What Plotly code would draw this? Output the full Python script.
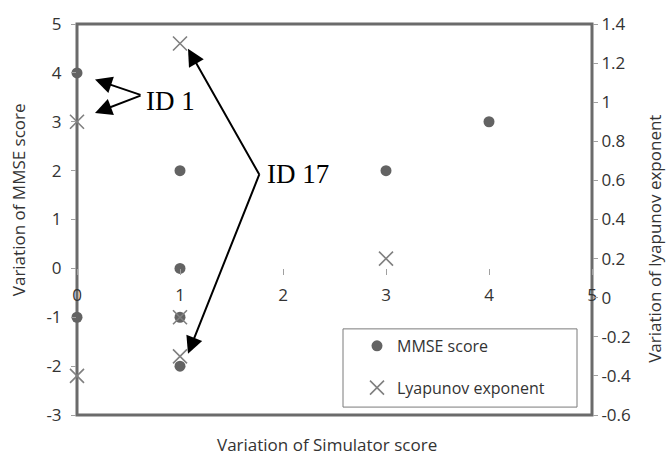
import plotly.graph_objects as go

# ---- data ----
mmse_x = [0, 0, 1, 1, 1, 1, 3, 4]
mmse_y = [4, -1, 2, 0, -1, -2, 2, 3]
lyap_x = [0, 0, 1, 1, 1, 3]
lyap_y = [0.9, -0.4, 1.3, -0.1, -0.3, 0.2]

x_ticks = [0, 1, 2, 3, 4, 5]
y_left_ticks = [-3, -2, -1, 0, 1, 2, 3, 4, 5]
y_left_text = ["-3", "-2", "-1", "0", "1", "2", "3", "4", "5"]
y_right_ticks = [-0.6, -0.4, -0.2, 0, 0.2, 0.4, 0.6, 0.8, 1.0, 1.2, 1.4]
y_right_text = ["-0.6", "-0.4", "-0.2", "0", "0.2", "0.4", "0.6", "0.8", "1", "1.2", "1.4"]

W, H = 668, 456
L, R, T, B = 77, 76, 20, 41
PW, PH = W - L - R, H - T - B

def px(X):
    return (X - L) / PW

def py(Y):
    return (H - B - Y) / PH

FONT = "Open Sans"
TXT = "#333333"
GRAY = "#6b6b6b"

fig = go.Figure()
fig.add_trace(go.Scatter(
    x=mmse_x, y=mmse_y, mode="markers", name="MMSE score",
    marker=dict(symbol="circle", size=11, color="#636363"),
    cliponaxis=False, legendgroup="a", xaxis="x", yaxis="y"))
fig.add_trace(go.Scatter(
    x=lyap_x, y=lyap_y, mode="markers", name="Lyapunov exponent",
    marker=dict(symbol="x-thin", size=14, color="#808080",
                line=dict(width=1.6, color="#808080")),
    cliponaxis=False, legendgroup="b", xaxis="x", yaxis="y2"))

fig.update_layout(
    width=W, height=H,
    margin=dict(l=L, r=R, t=T, b=B),
    paper_bgcolor="white", plot_bgcolor="white",
    font=dict(family=FONT, size=16, color=TXT),
    showlegend=True,
    xaxis=dict(range=[0, 5], tickvals=x_ticks, ticks="outside", ticklen=6,
               tickcolor="#a0a0a0", showline=False, showgrid=False,
               zeroline=False, anchor="free", position=3 / 8,
               ticklabelstandoff=5, tickfont=dict(size=17, color=TXT)),
    yaxis=dict(range=[-3, 5], tickvals=y_left_ticks, ticktext=y_left_text,
               ticks="outside", ticklen=5, tickcolor="#a0a0a0",
               showline=False, showgrid=False, zeroline=False,
               ticklabelstandoff=6, tickfont=dict(size=17, color=TXT)),
    yaxis2=dict(range=[-0.6, 1.4], tickvals=y_right_ticks, ticktext=y_right_text,
                overlaying="y", side="right", ticks="outside", ticklen=5,
                tickcolor="#a0a0a0", showline=False, showgrid=False,
                zeroline=False, ticklabelstandoff=0,
                tickfont=dict(size=17, color=TXT)),
    legend=dict(x=px(357), y=py(328), xanchor="left", yanchor="top",
                bgcolor="rgba(0,0,0,0)", borderwidth=0,
                tracegroupgap=18, font=dict(size=16, color=TXT),
                itemwidth=30),
)

# plot frame and legend box
fig.add_shape(type="rect", xref="paper", yref="paper", x0=0, x1=1, y0=0, y1=1,
              line=dict(color=GRAY, width=3), layer="below")
fig.add_shape(type="rect", xref="paper", yref="paper",
              x0=px(343), x1=px(577), y0=py(407), y1=py(328),
              line=dict(color="#7a7a7a", width=1), layer="above")

# axis titles
fig.add_annotation(text="Variation of Simulator score", xref="paper", yref="paper",
                   x=px(327), y=py(445), showarrow=False,
                   xanchor="center", yanchor="middle",
                   font=dict(size=17, color=TXT, family=FONT))
fig.add_annotation(text="Variation of MMSE score", xref="paper", yref="paper",
                   x=px(18), y=py(198), showarrow=False, textangle=-90,
                   xanchor="center", yanchor="middle",
                   font=dict(size=17, color=TXT, family=FONT))
fig.add_annotation(text="Variation of lyapunov exponent", xref="paper", yref="paper",
                   x=px(655), y=py(237), showarrow=False, textangle=-90,
                   xanchor="center", yanchor="middle",
                   font=dict(size=17, color=TXT, family=FONT))

# callouts
SERIF = "Liberation Serif"
fig.add_annotation(text="ID 1", xref="paper", yref="paper", x=px(144), y=py(98),
                   xanchor="left", yanchor="middle", showarrow=False,
                   font=dict(size=27, color="black", family=SERIF))
fig.add_annotation(text="ID 17", xref="paper", yref="paper", x=px(265), y=py(172),
                   xanchor="left", yanchor="middle", showarrow=False,
                   font=dict(size=27, color="black", family=SERIF))

arrows = [((95, 76), (142, 92)), ((95, 110), (142, 92)),
          ((188, 45), (260, 172)), ((188, 353), (260, 172))]
for (tx, ty), (sx, sy) in arrows:
    fig.add_annotation(text="", xref="paper", yref="paper", x=px(tx), y=py(ty),
                       ax=sx - tx, ay=sy - ty, showarrow=True, arrowhead=2,
                       arrowsize=1.7, arrowwidth=2, arrowcolor="black",
                       standoff=0, startstandoff=0)

fig.write_html("out.html", config={"displayModeBar": False},
               post_script="document.body.style.margin='0';")
